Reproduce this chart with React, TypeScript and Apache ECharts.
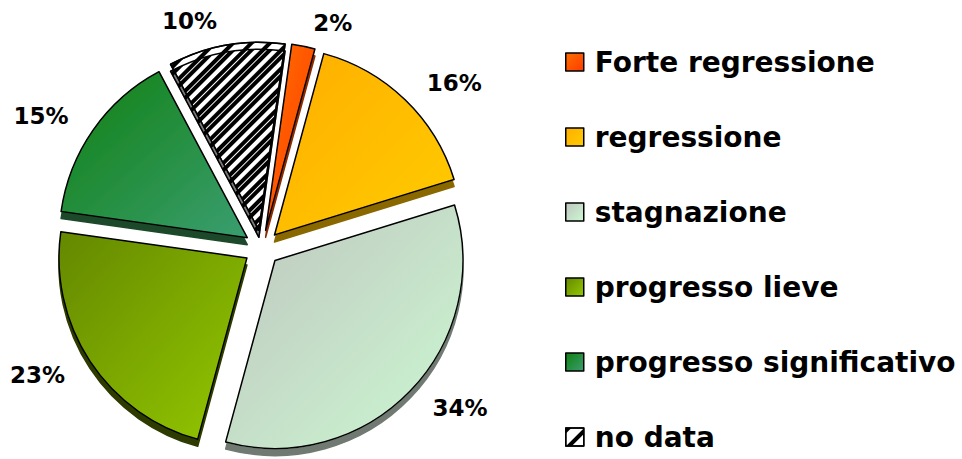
import React, { useEffect, useRef } from "react";
import * as echarts from "echarts";

const categories = [
  "Forte regressione",
  "regressione",
  "stagnazione",
  "progresso lieve",
  "progresso significativo",
  "no data",
];
const values = [2, 16, 34, 23, 15, 10];
const gradientStops = [
  ["#FF7000", "#FF3A00"],
  ["#FFAE00", "#FFCC00"],
  ["#BFC6BF", "#CCF8D2"],
  ["#648800", "#94C800"],
  ["#108010", "#3A9E70"],
  ["#FFFFFF", "#FFFFFF"],
];
const depthColors = ["#8A2A00", "#8A6800", "#707A72", "#2E3A00", "#1C4A2C", "#7A7A7A"];

export default function App() {
  const ref = useRef<HTMLDivElement>(null);
  useEffect(() => {
    if (!ref.current) return;
    const chart = echarts.init(ref.current, undefined, { renderer: "svg" });
    const data = categories.map((name, i) => {
      const item: any = {
        name,
        value: values[i],
        selected: true,
        itemStyle: {
          color: new echarts.graphic.LinearGradient(0, 0, 1, 1, [
            { offset: 0, color: gradientStops[i][0] },
            { offset: 1, color: gradientStops[i][1] },
          ]),
          shadowColor: depthColors[i],
          shadowOffsetY: 7,
          shadowOffsetX: 0,
          shadowBlur: 0,
        },
      };
      if (name === "no data") {
        item.itemStyle.color = "#FFFFFF";
        item.itemStyle.decal = {
          symbol: "rect",
          color: "#000000",
          backgroundColor: "#FFFFFF",
          dashArrayX: [1, 0],
          dashArrayY: [4, 9],
          rotation: -Math.PI / 4,
        };
      }
      return item;
    });
    chart.setOption({
      animation: false,
      legend: {
        orient: "vertical",
        left: 565,
        top: 48,
        height: 440,
        padding: 0,
        itemWidth: 18,
        itemHeight: 18,
        itemGap: 47,
        icon: "rect",
        itemStyle: {
          borderColor: "#000",
          borderWidth: 1.5,
          shadowBlur: 0,
          shadowOffsetY: 0,
          shadowColor: "rgba(0,0,0,0)",
        },
        textStyle: {
          fontFamily: "DejaVu Sans",
          fontWeight: "bold",
          fontSize: 28,
          color: "#000",
          padding: [0, 0, 0, 6],
        },
        selectedMode: false,
        data: categories,
      },
      series: [
        {
          type: "pie",
          center: [262, 248],
          radius: [0, 188],
          startAngle: 82,
          clockwise: true,
          selectedMode: "multiple",
          selectedOffset: 18,
          avoidLabelOverlap: false,
          itemStyle: { borderColor: "#000", borderWidth: 1.5 },
          label: {
            show: true,
            position: "outside",
            formatter: "{c}%",
            fontFamily: "DejaVu Sans",
            fontWeight: "bold",
            fontSize: 23,
            color: "#000",
          },
          labelLine: { show: false, length: 24, length2: 0 },
          emphasis: { disabled: true },
          data,
        },
      ],
    });
    return () => chart.dispose();
  }, []);
  return (
    <div
      ref={ref}
      style={{ position: "fixed", left: 0, top: 0, width: 962, height: 459, background: "#fff" }}
    />
  );
}
